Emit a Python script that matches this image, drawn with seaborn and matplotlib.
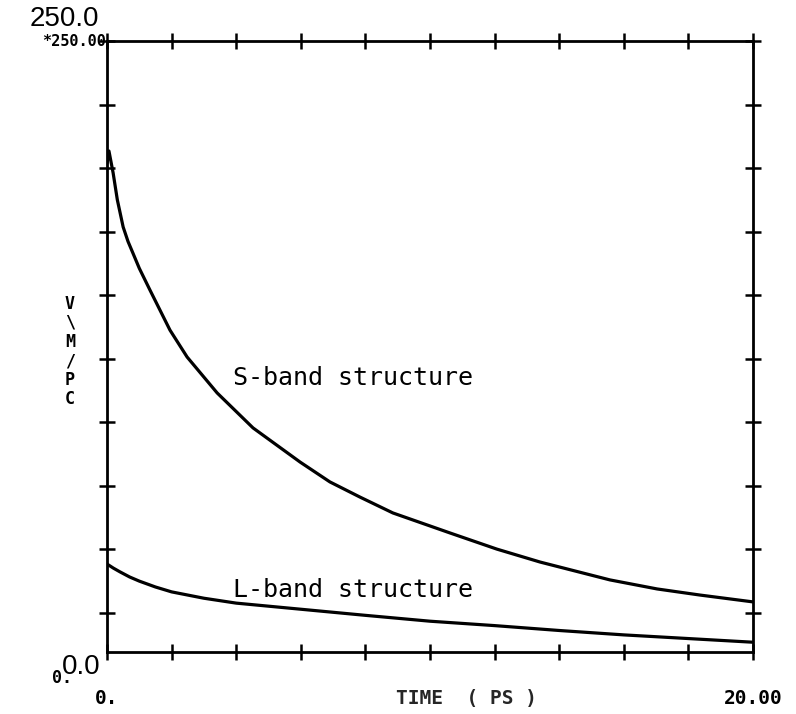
import numpy as np
import pandas as pd
import matplotlib
matplotlib.use("Agg")
import matplotlib.pyplot as plt
import seaborn as sns

# Field decay curves, V/M/PC versus time in ps
s_band_time = [0.0, 0.06, 0.19, 0.32, 0.50, 0.65, 0.80, 1.0, 1.33, 1.95, 2.48, 3.41,
               4.52, 5.98, 6.90, 7.83, 8.85, 10.62, 12.07, 13.41, 15.57, 17.03, 18.36, 20.0]
s_band_value = [200.0, 205.0, 196.0, 185.0, 173.9, 168.0, 163.3, 157.0, 148.1, 131.7,
                120.7, 106.0, 91.7, 77.7, 69.6, 63.4, 56.9, 48.7, 42.1, 36.8, 29.5,
                25.8, 23.3, 20.5]

l_band_time = [0.0, 0.2, 0.4, 0.7, 1.0, 1.5, 2.0, 3.0, 4.0, 6.0, 8.0, 10.0, 12.0,
               14.0, 16.0, 18.0, 20.0]
l_band_value = [36.0, 34.3, 32.8, 30.7, 29.0, 26.6, 24.6, 22.0, 20.0, 17.5, 15.0, 12.6,
                10.8, 8.8, 7.0, 5.5, 4.0]

series_labels = ["S-band structure", "L-band structure"]
x_ticks = [0, 2, 4, 6, 8, 10, 12, 14, 16, 18, 20]
x_tick_labels = ["0.", "", "", "", "", "", "", "", "", "", "20.00"]
y_ticks = [16, 42, 68, 94, 120, 146, 172, 198, 224, 250]
y_label_chars = ["V", "\\", "M", "/", "P", "C"]

df = pd.concat([
    pd.DataFrame({"time": s_band_time, "value": s_band_value, "band": series_labels[0]}),
    pd.DataFrame({"time": l_band_time, "value": l_band_value, "band": series_labels[1]}),
])

sns.set_style("white")
plt.rcParams["font.family"] = ["DejaVu Sans Mono", "DejaVu Sans"]
plt.rcParams["text.color"] = "black"
plt.rcParams["xtick.color"] = "black"
plt.rcParams["ytick.color"] = "black"
plt.rcParams["lines.solid_joinstyle"] = "round"

fig = plt.figure(figsize=(7.96, 7.14), dpi=100)
ax = fig.add_axes([107 / 796, 62 / 714, 646 / 796, 611 / 714])

sns.lineplot(data=df, x="time", y="value", hue="band", units="band",
             estimator=None, palette=["black", "black"], linewidth=2.3,
             legend=False, ax=ax, sort=False)

ax.set_xlim(0, 20)
ax.set_ylim(0, 250)

for side in ax.spines.values():
    side.set_linewidth(2.0)
    side.set_color("black")

ax.set_xticks(x_ticks)
ax.set_xticklabels(x_tick_labels, fontsize=14, fontweight="bold")
ax.set_yticks(y_ticks)
ax.set_yticklabels([])
ax.tick_params(axis="both", which="both", direction="inout", length=12, width=1.8,
               top=True, right=True, bottom=True, left=True, color="black")
ax.tick_params(axis="x", pad=21)

ax.set_xlabel("TIME  ( PS )", fontsize=14, fontweight="bold")
ax.xaxis.set_label_coords(0.556, -0.061)
ax.set_ylabel("")

# Curve annotations
ax.text(3.9, 112, series_labels[0], fontsize=18, ha="left", va="center")
ax.text(3.9, 25.4, series_labels[1], fontsize=18, ha="left", va="center")

# Axis end labels
fig.text(64 / 796, 1 - 19 / 714, "250.0", fontsize=20, ha="center", va="center",
         family=["Liberation Sans"])
fig.text(106 / 796, 1 - 41 / 714, "*250.00", fontsize=11, ha="right", va="center",
         fontweight="bold")
fig.text(81 / 796, 1 - 667 / 714, "0.0", fontsize=20, ha="center", va="center",
         family=["Liberation Sans"])
fig.text(62 / 796, 1 - 678 / 714, "0.", fontsize=12, ha="center", va="center",
         fontweight="bold")

# Stacked y-axis unit label
for i, ch in enumerate(y_label_chars):
    fig.text(70 / 796, 1 - (304 + i * 19) / 714, ch, fontsize=12, ha="center",
             va="center", fontweight="bold")

fig.savefig("out.png", dpi=100, facecolor="white")
